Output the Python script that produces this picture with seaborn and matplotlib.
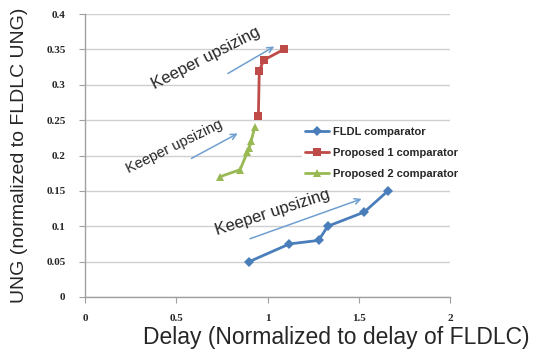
import matplotlib
matplotlib.use("Agg")
import matplotlib.pyplot as plt
import seaborn as sns

# series
fldl_x = [0.90, 1.12, 1.28, 1.33, 1.53, 1.66]
fldl_y = [0.050, 0.075, 0.080, 0.100, 0.120, 0.150]
prop1_x = [0.95, 0.955, 0.98, 1.09]
prop1_y = [0.256, 0.320, 0.335, 0.350]
prop2_x = [0.74, 0.85, 0.89, 0.90, 0.91, 0.93]
prop2_y = [0.170, 0.180, 0.205, 0.210, 0.220, 0.240]

x_ticks = [0, 0.5, 1, 1.5, 2]
x_tick_labels = ["0", "0.5", "1", "1.5", "2"]
y_ticks = [0, 0.05, 0.1, 0.15, 0.2, 0.25, 0.3, 0.35, 0.4]
y_tick_labels = ["0", "0.05", "0.1", "0.15", "0.2", "0.25", "0.3", "0.35", "0.4"]

sns.set_style("white")
plt.rcParams["font.family"] = ["Liberation Sans", "DejaVu Sans"]

fig = plt.figure(figsize=(5.41, 3.52), dpi=100)
ax = fig.add_axes([85 / 541, 1 - 297 / 352, 365 / 541, 283 / 352])

sns.lineplot(x=fldl_x, y=fldl_y, sort=False, ax=ax, color="#4a7ebb", lw=2,
             marker="D", markersize=5, markeredgewidth=0, label="FLDL comparator")
sns.lineplot(x=prop1_x, y=prop1_y, sort=False, ax=ax, color="#be4b48", lw=2,
             marker="s", markersize=6, markeredgewidth=0, label="Proposed 1 comparator")
sns.lineplot(x=prop2_x, y=prop2_y, sort=False, ax=ax, color="#98b954", lw=2,
             marker="^", markersize=6, markeredgewidth=0, label="Proposed 2 comparator")

ax.set_xlim(0, 2)
ax.set_ylim(0, 0.4)
ax.set_xticks(x_ticks)
ax.set_xticklabels(x_tick_labels)
ax.set_yticks(y_ticks)
ax.set_yticklabels(y_tick_labels)
for lab in ax.get_xticklabels() + ax.get_yticklabels():
    lab.set_fontweight("bold")
    lab.set_fontsize(8)
    lab.set_family(["Liberation Serif", "DejaVu Serif"])
ax.tick_params(axis="both", direction="out", length=4, width=0.8, color="#a0a0a0",
               bottom=True, left=True)
ax.tick_params(axis="y", pad=10)
ax.tick_params(axis="x", pad=8)

ax.yaxis.grid(True, color="#d0d0d0", lw=1)
ax.xaxis.grid(False)
for s in ["top", "right"]:
    ax.spines[s].set_visible(False)
for s in ["left", "bottom"]:
    ax.spines[s].set_color("#a0a0a0")
    ax.spines[s].set_linewidth(1)

ax.set_xlabel("Delay (Normalized to delay of FLDLC)", fontsize=16.5)
ax.xaxis.set_label_coords((336 - 85) / 365, -(326 - 297) / 283)
ax.set_ylabel("UNG (normalized to FLDLC UNG)", fontsize=14)
ax.yaxis.set_label_coords(-(85 - 28) / 365, 0.5)

# annotations
arrow_kw = dict(arrowstyle="->", color="#6f9fd0", lw=1.1)
ax.annotate("", xy=(1.05, 0.356), xytext=(0.77, 0.314), arrowprops=arrow_kw)
ax.annotate("", xy=(0.85, 0.233), xytext=(0.57, 0.194), arrowprops=arrow_kw)
ax.annotate("", xy=(1.53, 0.140), xytext=(0.89, 0.081), arrowprops=arrow_kw)
ax.text(0.66, 0.338, "Keeper upsizing", rotation=27, fontsize=12,
        ha="center", va="center", rotation_mode="anchor")
ax.text(0.49, 0.212, "Keeper upsizing", rotation=26, fontsize=10.5,
        ha="center", va="center", rotation_mode="anchor")
ax.text(1.03, 0.120, "Keeper upsizing", rotation=18, fontsize=12,
        ha="center", va="center", rotation_mode="anchor")

leg = ax.legend(loc="upper left", bbox_to_anchor=(296 / 541, 1 - 118 / 352),
                bbox_transform=fig.transFigure, frameon=True, framealpha=1,
                edgecolor="white", fancybox=False, handlelength=2.2,
                handletextpad=0.3, labelspacing=1.0, borderpad=0.3,
                prop={"weight": "bold", "size": 8})

fig.savefig("out.png", dpi=100)
